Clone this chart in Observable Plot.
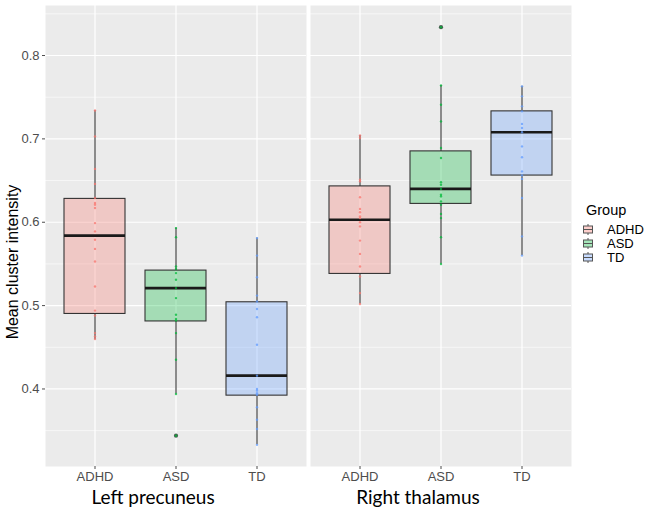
<!DOCTYPE html>
<html><head><meta charset="utf-8">
<script src="https://cdn.jsdelivr.net/npm/d3@7"></script>
<script src="https://cdn.jsdelivr.net/npm/@observablehq/plot@0.6"></script>
<style>
body{margin:0;background:#fff;}
#wrap{position:relative;width:650px;height:513px;font-family:'Liberation Sans',Arial,sans-serif;}
#ytitle{position:absolute;left:13px;top:262px;transform:translate(-50%,-50%) rotate(-90deg);font-size:16px;white-space:nowrap;color:#000;}
#legend{position:absolute;left:583px;top:202px;color:#000;}
#legend .t{font-size:14.5px;margin-bottom:4px;padding-left:3px;}
#legend .i{display:flex;align-items:center;height:14.3px;font-size:13px;}
#legend svg{margin-right:14px;}
</style></head><body>
<div id="wrap"><div id="chart"></div><div id="ytitle">Mean cluster intensity</div><div id="legend"></div></div>
<script>
const regions = ["Left precuneus", "Right thalamus"];
const groups = ["ADHD", "ASD", "TD"];
const groupColors = ["#F8766D", "#00BA38", "#619CFF"];

// box statistics, one entry per box
const boxRegion   = ["Left precuneus","Left precuneus","Left precuneus","Right thalamus","Right thalamus","Right thalamus"];
const boxGroup    = ["ADHD","ASD","TD","ADHD","ASD","TD"];
const whiskerLow  = [0.459, 0.394, 0.333, 0.502, 0.550, 0.560];
const q1          = [0.490, 0.481, 0.392, 0.538, 0.622, 0.656];
const median      = [0.584, 0.521, 0.416, 0.603, 0.640, 0.708];
const q3          = [0.628, 0.542, 0.504, 0.643, 0.685, 0.733];
const whiskerHigh = [0.734, 0.593, 0.581, 0.704, 0.764, 0.763];

// individual subject values
const leftADHD  = [0.734,0.703,0.664,0.646,0.629,0.623,0.621,0.617,0.599,0.589,0.579,0.568,0.553,0.523,0.494,0.488,0.467,0.463,0.460];
const leftASD   = [0.593,0.582,0.547,0.544,0.539,0.531,0.521,0.509,0.489,0.484,0.482,0.467,0.435,0.394,0.344];
const leftTD    = [0.581,0.560,0.534,0.512,0.505,0.496,0.486,0.453,0.416,0.400,0.398,0.395,0.393,0.378,0.363,0.352,0.333];
const rightADHD = [0.704,0.701,0.651,0.649,0.630,0.616,0.612,0.607,0.605,0.600,0.595,0.578,0.562,0.547,0.535,0.515,0.502];
const rightASD  = [0.834,0.764,0.741,0.721,0.689,0.677,0.648,0.645,0.640,0.633,0.631,0.625,0.621,0.610,0.605,0.582,0.550];
const rightTD   = [0.763,0.751,0.739,0.733,0.718,0.713,0.708,0.691,0.678,0.661,0.656,0.652,0.629,0.583,0.560];

// outliers
const outlierRegion = ["Left precuneus","Right thalamus"];
const outlierGroup  = ["ASD","ASD"];
const outlierValue  = [0.344, 0.834];

const majorTicks = [0.4, 0.5, 0.6, 0.7, 0.8];
const minorTicks = [0.35, 0.45, 0.55, 0.65, 0.75, 0.85];

const boxes = boxGroup.map((g, i) => ({region: boxRegion[i], group: g, lo: whiskerLow[i], q1: q1[i], med: median[i], q3: q3[i], hi: whiskerHigh[i]}));
const sets = [["Left precuneus","ADHD",leftADHD],["Left precuneus","ASD",leftASD],["Left precuneus","TD",leftTD],
              ["Right thalamus","ADHD",rightADHD],["Right thalamus","ASD",rightASD],["Right thalamus","TD",rightTD]];
const points = sets.flatMap(([r, g, vals]) => vals.map(v => ({region: r, group: g, v})));
const outliers = outlierValue.map((v, i) => ({region: outlierRegion[i], group: outlierGroup[i], v}));

const chart = Plot.plot({
  width: 650, height: 513,
  marginLeft: 45, marginRight: 78, marginTop: 5, marginBottom: 47,
  style: {fontFamily: "'Liberation Sans', Arial, sans-serif", background: "transparent"},
  fx: {domain: regions, paddingInner: 0.015, paddingOuter: 0, label: null},
  x: {type: "band", domain: groups, paddingInner: 0.25, paddingOuter: 0.225, label: null},
  y: {domain: [0.307, 0.860], label: null},
  color: {domain: groups, range: groupColors},
  marks: [
    Plot.frame({fill: "#EBEBEB", stroke: null}),
    Plot.ruleY(minorTicks, {stroke: "#fff", strokeWidth: 0.6}),
    Plot.ruleY(majorTicks, {stroke: "#fff", strokeWidth: 1.2}),
    Plot.ruleX(groups, {x: d => d, stroke: "#fff", strokeWidth: 1.2}),
    Plot.ruleX(boxes, {fx: "region", x: "group", y1: "lo", y2: "q1", stroke: "#333", strokeWidth: 1.1}),
    Plot.ruleX(boxes, {fx: "region", x: "group", y1: "q3", y2: "hi", stroke: "#333", strokeWidth: 1.1}),
    Plot.barY(boxes, {fx: "region", x: "group", y1: "q1", y2: "q3", fill: "group", fillOpacity: 0.3, stroke: "#333", strokeWidth: 1.1}),
    Plot.tickY(boxes, {fx: "region", x: "group", y: "med", stroke: "#1a1a1a", strokeWidth: 2.6}),
    Plot.dot(outliers, {fx: "region", x: "group", y: "v", r: 2.1, fill: "#1f3a28", fillOpacity: 0.8, stroke: null}),
    Plot.dot(points, {fx: "region", x: "group", y: "v", r: 1.2, fill: "group", fillOpacity: 0.75, stroke: null}),
    Plot.axisY({ticks: majorTicks, tickFormat: d3.format(".1f"), tickSize: 3, tickPadding: 3, fontSize: 13, color: "#4D4D4D", label: null}),
    Plot.axisX({tickSize: 3, tickPadding: 2, fontSize: 13, color: "#4D4D4D", label: null}),
    Plot.axisFx({anchor: "bottom", tickSize: 0, tickPadding: 24, dx: -23, fontSize: 19, fontFamily: "Lato, 'Open Sans', sans-serif", color: "#000", label: null})
  ]
});
document.getElementById("chart").appendChild(chart);

// legend
const lg = document.getElementById("legend");
let html = '<div class="t">Group</div>';
groups.forEach((g, i) => {
  html += `<div class="i"><svg width="10" height="11"><line x1="5" x2="5" y1="0" y2="11" stroke="#555" stroke-width="1"/><rect x="0.5" y="2" width="9" height="7" fill="#fff"/><rect x="0.5" y="2" width="9" height="7" fill="${groupColors[i]}" fill-opacity="0.35" stroke="#555" stroke-width="1"/><line x1="0.5" x2="9.5" y1="5.5" y2="5.5" stroke="#555" stroke-width="1"/></svg>${g}</div>`;
});
lg.innerHTML = html;
</script>
</body></html>
